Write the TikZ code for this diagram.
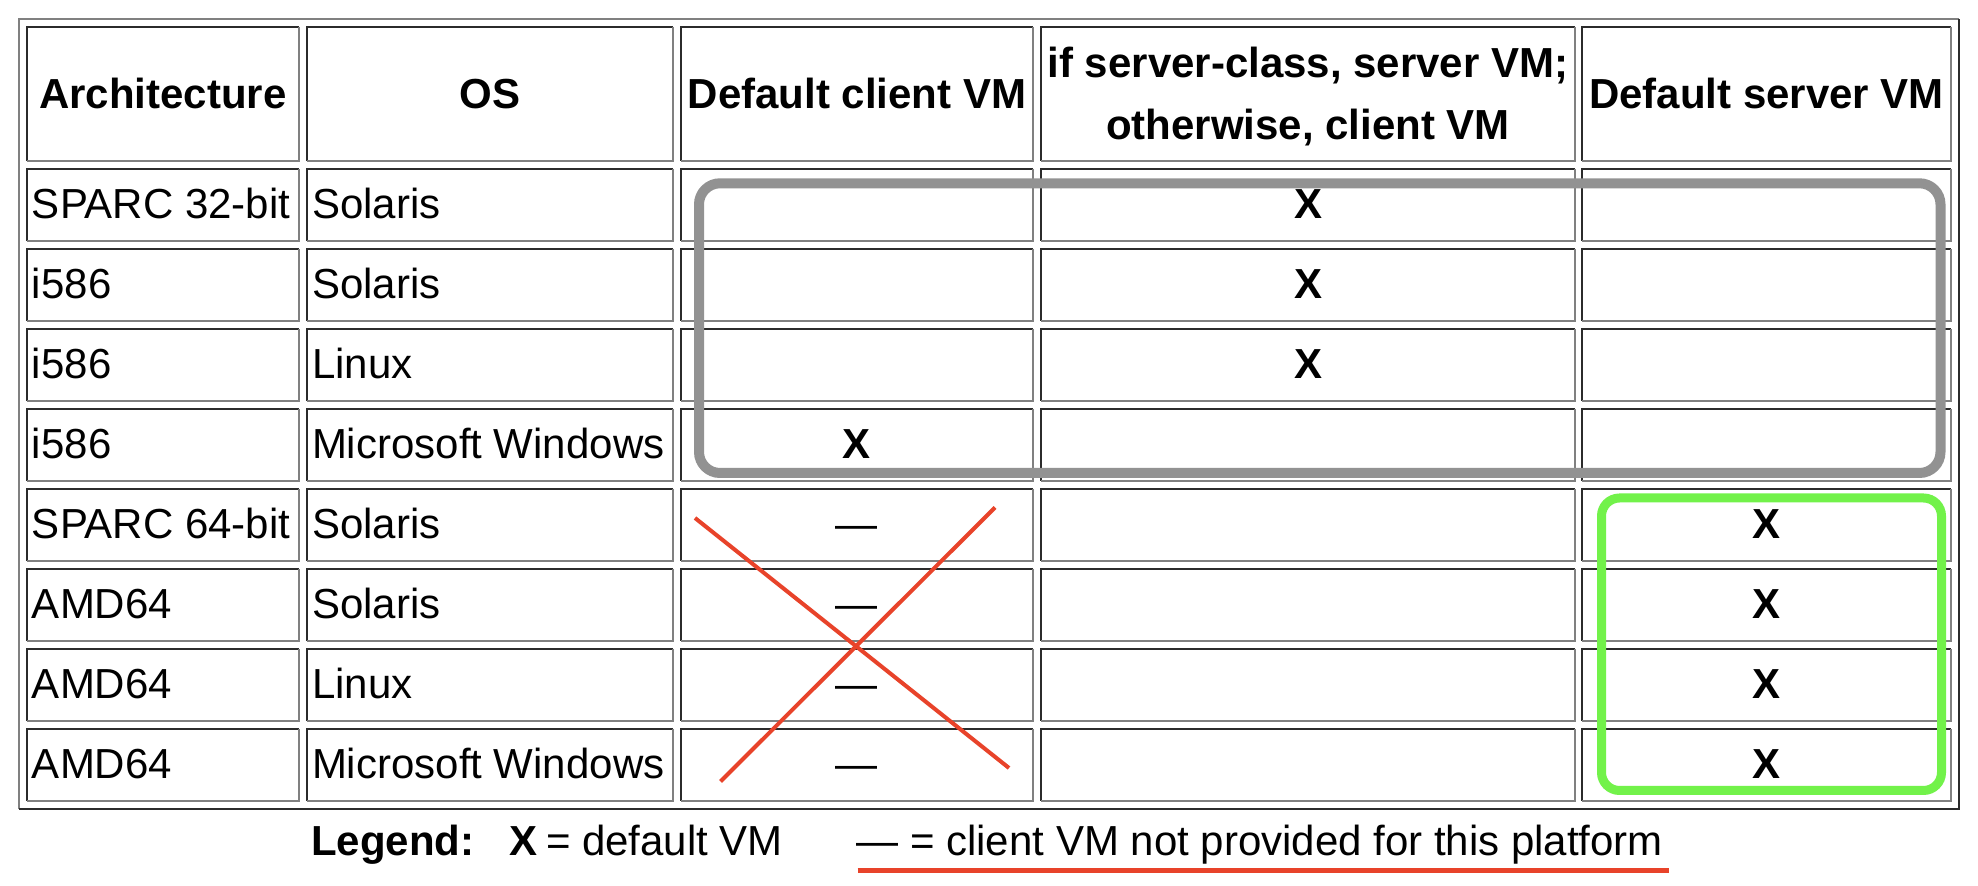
\documentclass[tikz,border=0pt]{standalone}
\usepackage{fontspec}
\setmainfont{Liberation Sans}
\definecolor{dk}{HTML}{2B2B2B}
\definecolor{lt}{HTML}{808080}
\definecolor{boxgray}{HTML}{929292}
\definecolor{boxgreen}{HTML}{72F24A}
\definecolor{redx}{HTML}{E8432A}
\tikzset{
  txt/.style={inner sep=0pt, outer sep=0pt, text=black, font=\fontsize{21}{25}\selectfont},
  hdr/.style={txt, font=\fontsize{21}{25}\selectfont\bfseries, anchor=base},
  lcell/.style={txt, anchor=base west},
  xmk/.style={txt, font=\fontsize{21}{25}\selectfont\bfseries, anchor=base},
  dsh/.style={txt, anchor=base},
  darkedge/.style={dk, line width=1pt},
  lightedge/.style={lt, line width=1pt},
  graybox/.style={boxgray, line width=5pt, rounded corners=10.5pt},
  greenbox/.style={boxgreen, line width=4.5pt, rounded corners=9pt},
  redline/.style={redx, line width=2pt},
}
\newcommand\tcell[4]{%
  \draw[darkedge] (#1,#4) -- (#1,#2) -- (#3,#2);
  \draw[lightedge] (#3,#2) -- (#3,#4) -- (#1,#4);}
\begin{document}
\begin{tikzpicture}[x=0.5pt,y=-0.5pt]
\useasboundingbox (0,0) rectangle (1978,886);
\fill[white] (0,0) rectangle (1978,886);
% outer table border (outset)
\draw[lightedge] (1959,19) -- (19,19) -- (19,809);
\draw[darkedge] (19,809) -- (1959,809) -- (1959,19);
% cells (inset)
\foreach \l/\r in {27/299, 307/673, 681/1033, 1041/1575, 1582/1951} {
  \tcell{\l}{27}{\r}{161}
  \foreach \i [evaluate=\i as \t using 169+80*\i, evaluate=\i as \b using 241+80*\i] in {0,...,7} {
    \tcell{\l}{\t}{\r}{\b}
  }
}
% header
\node[hdr] (hArch) at (163,108.5) {Architecture};
\node[hdr] (hOS) at (490,108.5) {OS};
\node[hdr] (hClient) at (857,108.5) {Default client VM};
\node[hdr] (hIf1) at (1308,77.5) {if server-class, server VM;};
\node[hdr] (hIf2) at (1308,140) {otherwise, client VM};
\node[hdr] (hServer) at (1766.5,108.5) {Default server VM};
% body rows
\foreach \i/\arch/\os in {1/SPARC 32-bit/Solaris, 2/i586/Solaris, 3/i586/Linux, 4/i586/Microsoft Windows,
  5/SPARC 64-bit/Solaris, 6/AMD64/Solaris, 7/AMD64/Linux, 8/AMD64/Microsoft Windows} {
  \pgfmathsetmacro\yb{169+80*(\i-1)+49.5}
  \node[lcell] (arch\i) at (32,\yb) {\arch};
  \node[lcell] (os\i) at (312,\yb) {\os};
}
\foreach \i in {1,2,3} {
  \pgfmathsetmacro\yb{169+80*(\i-1)+49.5}
  \node[xmk] (either\i) at (1308,\yb) {X};
}
\node[xmk] (client4) at (857,{169+80*3+49.5}) {X};
\foreach \i in {5,6,7,8} {
  \pgfmathsetmacro\yb{169+80*(\i-1)+49.5}
  \node[dsh] (none\i) at (856.5,\yb) {—};
  \node[xmk] (server\i) at (1766.5,\yb) {X};
}
% highlight boxes
\draw[graybox] (699,183.3) rectangle (1940.5,473);
\draw[greenbox] (1601.5,498) rectangle (1941.5,790.5);
% red cross
\coordinate (xa1) at (695,518);
\coordinate (xa2) at (1009,768);
\coordinate (xb1) at (720.5,781.5);
\coordinate (xb2) at (995,507.5);
\draw[redline] (xa1) -- (xa2);
\draw[redline] (xb1) -- (xb2);
% legend
\node[txt, font=\fontsize{21}{25}\selectfont\bfseries, anchor=base west] (legLabel) at (311,855.7) {Legend:};
\node[txt, font=\fontsize{21}{25}\selectfont\bfseries, anchor=base west] (legX) at (509.5,855.7) {X};
\node[txt, anchor=base west] (legXtext) at (546,855.7) {= default VM};
\node[txt, anchor=base west] (legDash) at (856.5,855.7) {— = client VM not provided for this platform};
\coordinate (ulA) at (857.5,870.5);
\coordinate (ulB) at (1669,870.5);
\draw[redx, line width=2.15pt] (ulA) -- (ulB);
\end{tikzpicture}
\end{document}
